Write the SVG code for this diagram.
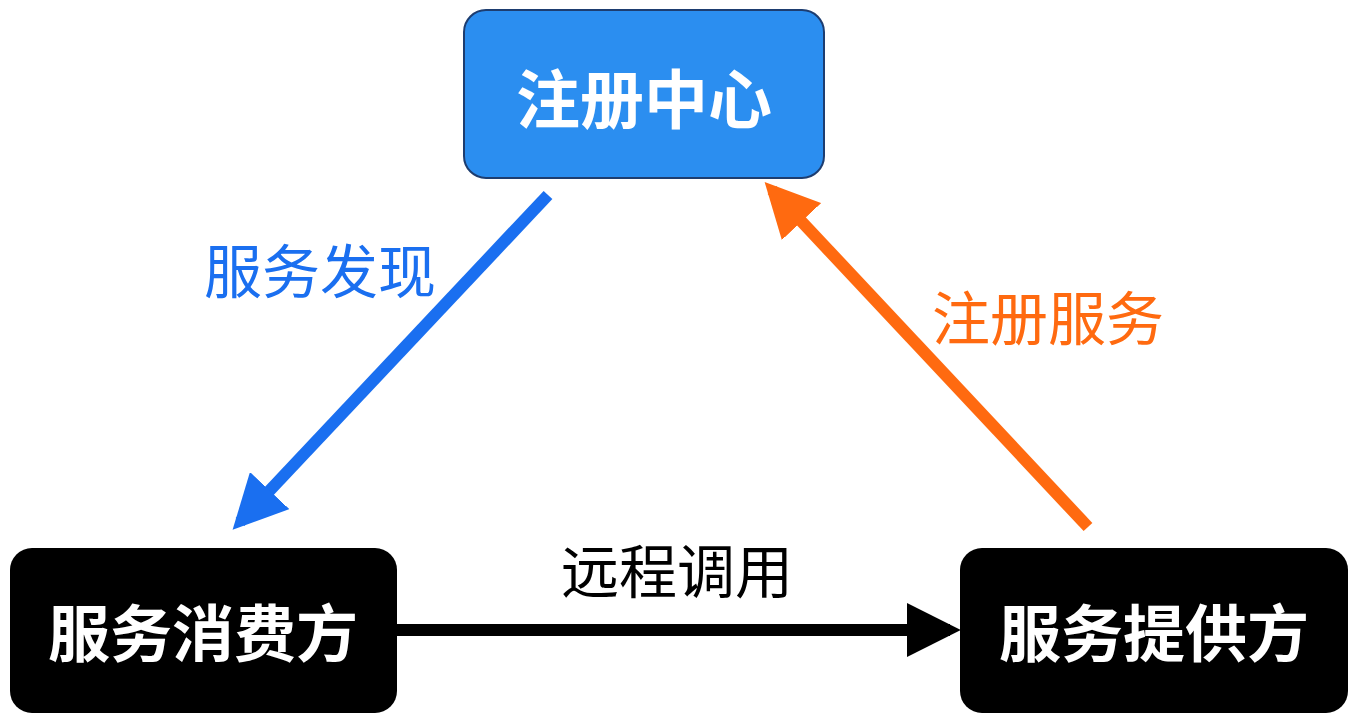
<svg xmlns="http://www.w3.org/2000/svg" width="1360" height="725" viewBox="0 0 1360 725">
<style>
.nt{font-family:"Noto Sans CJK SC","Noto Sans",sans-serif;font-weight:bold;fill:#fff;text-anchor:middle;dominant-baseline:central}
.lt{font-family:"Noto Sans CJK SC","Noto Sans",sans-serif;font-size:58px;text-anchor:middle;dominant-baseline:central}
</style>
<defs>
<marker id="hb" viewBox="0 0 10 10" refX="8" refY="5" markerWidth="4.5" markerHeight="4.5" orient="auto" markerUnits="strokeWidth"><path d="M0,0L10,5L0,10z" fill="#1a6ff0"/></marker>
<marker id="ho" viewBox="0 0 10 10" refX="8" refY="5" markerWidth="4.5" markerHeight="4.5" orient="auto" markerUnits="strokeWidth"><path d="M0,0L10,5L0,10z" fill="#ff6a10"/></marker>
<marker id="hk" viewBox="0 0 10 10" refX="8" refY="5" markerWidth="4.5" markerHeight="4.5" orient="auto" markerUnits="strokeWidth"><path d="M0,0L10,5L0,10z" fill="#000"/></marker>
</defs>
<rect width="1360" height="725" fill="#fff"/>
<g id="connectors" stroke-width="12" fill="none">
<line x1="548" y1="195" x2="240" y2="522" stroke="#1a6ff0" marker-end="url(#hb)"/>
<line x1="1088" y1="527" x2="772" y2="190" stroke="#ff6a10" marker-end="url(#ho)"/>
<line x1="397" y1="630" x2="950" y2="630" stroke="#000" marker-end="url(#hk)"/>
</g>
<g id="registry">
<rect x="464" y="10" width="360" height="168" rx="22" fill="#2b8ef0" stroke="#1d3d70" stroke-width="2"/>
<text class="nt" x="644" y="95" font-size="64">注册中心</text>
</g>
<g id="consumer">
<rect x="10" y="548" width="387" height="165" rx="22" fill="#000"/>
<text class="nt" x="203" y="630" font-size="62">服务消费方</text>
</g>
<g id="provider">
<rect x="960" y="548" width="388" height="165" rx="22" fill="#000"/>
<text class="nt" x="1154" y="630" font-size="62">服务提供方</text>
</g>
<text class="lt" x="320" y="268" fill="#1a6ff0">服务发现</text>
<text class="lt" x="1048" y="315" fill="#ff6a10">注册服务</text>
<text class="lt" x="677" y="568" fill="#000">远程调用</text>
</svg>
